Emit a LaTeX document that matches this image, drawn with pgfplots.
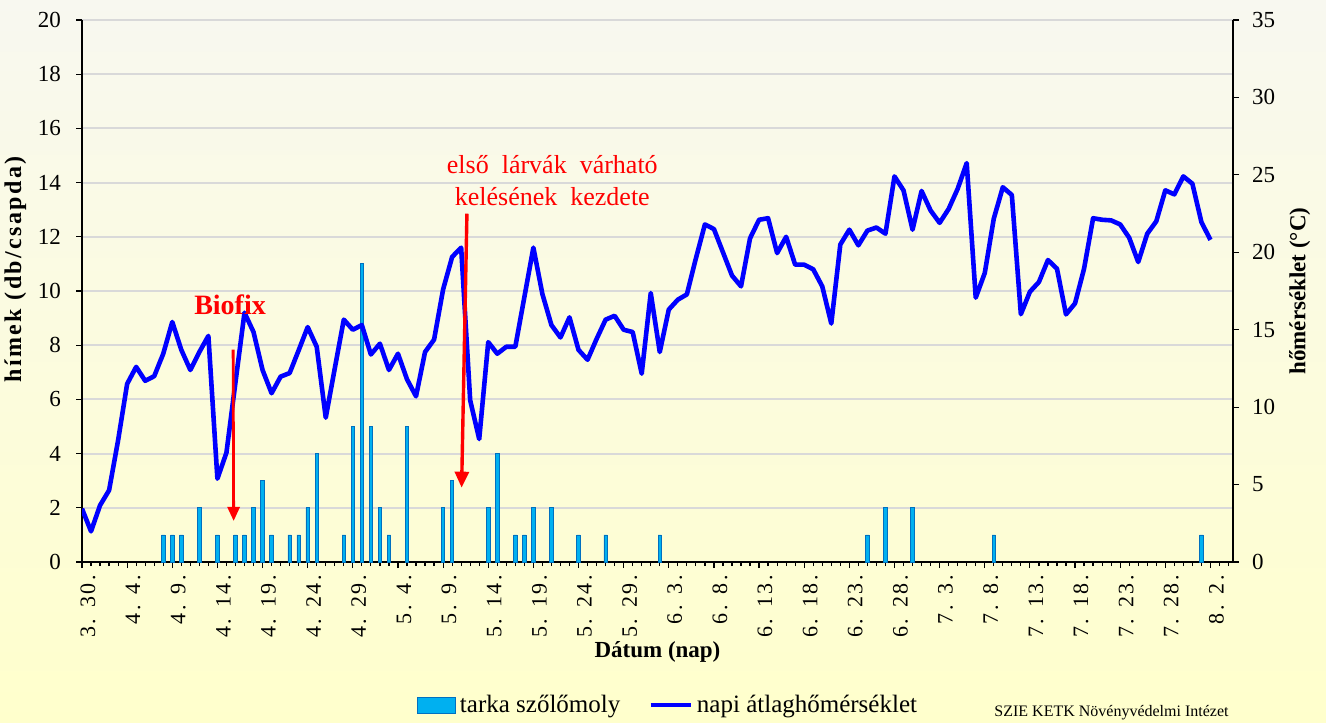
\documentclass[border=0pt]{standalone}
\usepackage{fontspec}
\setmainfont{Liberation Serif}
\newfontfamily\xtickfont[LetterSpace=12]{Liberation Serif}
\newfontfamily\ylabfont[LetterSpace=10]{Liberation Serif}
\usepackage{pgfplots}
\pgfplotsset{compat=1.18}
\usetikzlibrary{arrows.meta}
\definecolor{barfill}{RGB}{0,176,240}
\definecolor{bardraw}{RGB}{0,112,192}
\definecolor{gridc}{RGB}{217,217,217}
\definecolor{bgtop}{RGB}{248,248,240}
\definecolor{bgbot}{RGB}{255,255,204}

\pgfplotstableread{
d v
9 1
10 1
11 1
13 2
15 1
17 1
18 1
19 2
20 3
21 1
23 1
24 1
25 2
26 4
29 1
30 5
31 11
32 5
33 2
34 1
36 5
40 2
41 3
45 2
46 4
48 1
49 1
50 2
52 2
55 1
58 1
64 1
87 1
89 2
92 2
101 1
124 1
}\bars

\pgfplotstableread{
d t
0 3.44
1 1.98
2 3.66
3 4.63
4 7.86
5 11.5
6 12.6
7 11.7
8 12.0
9 13.45
10 15.5
11 13.7
12 12.4
13 13.56
14 14.6
15 5.38
16 7.06
17 11.6
18 16.1
19 14.85
20 12.4
21 10.9
22 11.97
23 12.2
24 13.67
25 15.17
26 13.9
27 9.32
28 12.5
29 15.65
30 15.0
31 15.3
32 13.4
33 14.1
34 12.4
35 13.45
36 11.8
37 10.7
38 13.56
39 14.36
40 17.6
41 19.7
42 20.3
43 10.44
44 7.94
45 14.2
46 13.45
47 13.9
48 13.9
49 17.1
50 20.3
51 17.3
52 15.3
53 14.5
54 15.8
55 13.7
56 13.06
57 14.4
58 15.65
59 15.9
60 15.0
61 14.85
62 12.16
63 17.37
64 13.56
65 16.3
66 16.94
67 17.28
68 19.6
69 21.8
70 21.5
71 20.0
72 18.5
73 17.8
74 20.9
75 22.1
76 22.2
77 19.95
78 21.0
79 19.2
80 19.2
81 18.9
82 17.8
83 15.4
84 20.5
85 21.46
86 20.45
87 21.4
88 21.6
89 21.2
90 24.9
91 24.0
92 21.46
93 23.96
94 22.7
95 21.9
96 22.8
97 24.1
98 25.76
99 17.07
100 18.66
101 22.17
102 24.2
103 23.7
104 16.0
105 17.45
106 18.08
107 19.5
108 18.94
109 15.99
110 16.7
111 18.94
112 22.2
113 22.1
114 22.06
115 21.8
116 20.94
117 19.37
118 21.2
119 22.0
120 24.0
121 23.74
122 24.9
123 24.43
124 21.95
125 20.8
}\temps

\begin{document}
\begin{tikzpicture}[x=1pt,y=1pt]
\useasboundingbox (-41,-80) rectangle (622,281);
\fill[top color=bgtop,bottom color=bgbot] (-41,-80) rectangle (622,281);
\pgfplotsset{
  every axis/.append style={
    at={(0,0)}, anchor=south west, scale only axis,
    width=575.5pt, height=271pt,
    xmin=0, xmax=127.5,
    tick align=outside,
    major tick length=3pt, minor tick length=2pt,
    every tick/.style={black, line width=0.6pt},
    axis line style={black, line width=1pt},
    /pgf/number format/assume math mode=true,
  }
}
\begin{axis}[
  ymin=0, ymax=20,
  axis x line*=bottom, axis y line*=left,
  ytick={0,2,...,20},
  ymajorgrids, grid style={gridc, line width=1pt},
  yticklabel style={font=\fontsize{11.5}{12}\selectfont, xshift=-4pt},
  xtick={0,5,...,125},
  minor xtick={0,1,...,127},
  xticklabels={3. 30.,4. 4.,4. 9.,4. 14.,4. 19.,4. 24.,4. 29.,5. 4.,5. 9.,5. 14.,5. 19.,5. 24.,5. 29.,6. 3.,6. 8.,6. 13.,6. 18.,6. 23.,6. 28.,7. 3.,7. 8.,7. 13.,7. 18.,7. 23.,7. 28.,8. 2.},
  xticklabel style={rotate=90, anchor=east, font=\xtickfont\fontsize{11}{12}\selectfont, yshift=-3pt},
  ylabel={\bfseries hímek (db/csapda)},
  ylabel style={at={(axis description cs:-0.058,0.54)}, anchor=center, rotate=0, font=\ylabfont\fontsize{12}{13}\selectfont},
  xlabel={\bfseries Dátum (nap)},
  xlabel style={at={(axis description cs:0.5,-0.166)}, anchor=center, font=\fontsize{11.5}{13}\selectfont},
]
\addplot[ybar, bar width=1.7pt, fill=barfill, draw=bardraw, line width=0.4pt] table[x=d,y=v] {\bars};
\end{axis}
\begin{axis}[
  ymin=0, ymax=35,
  axis x line=none, axis y line*=right,
  ytick={0,5,...,35},
  yticklabel style={font=\fontsize{11.5}{12}\selectfont, xshift=3pt},
  ylabel={\bfseries hőmérséklet (°C)},
  ylabel style={at={(axis description cs:1.058,0.5)}, anchor=center, rotate=0, font=\fontsize{11.5}{13}\selectfont},
  legend style={at={(0.51,-0.264)}, anchor=center, draw=none, fill=none,
    font=\fontsize{12.5}{14}\selectfont, legend columns=2,
    /tikz/every even column/.append style={column sep=12pt}},
]
\addlegendimage{legend image code/.code={\draw[fill=barfill,draw=bardraw,line width=0.5pt] (0pt,-4pt) rectangle (19pt,4pt);}}
\addlegendentry{tarka szőlőmoly}
\addplot[blue, line width=2.3pt, line join=round,
  legend image code/.code={\draw[blue,line width=2.3pt] (0pt,0pt) -- (20pt,0pt);}] table[x=d,y=t] {\temps};
\addlegendentry{napi átlaghőmérséklet}
\draw[red, line width=1.4pt, -{Triangle[width=6pt,length=7pt]}] (axis cs:16.74,13.71) -- (axis cs:16.8,2.65);
\draw[red, line width=1.7pt, -{Triangle[width=7pt,length=8pt]}] (axis cs:42.64,22.49) -- (axis cs:42.05,4.8);
\node[red, font=\bfseries\fontsize{14}{16}\selectfont] at (axis cs:16.4,16.6) {Biofix};
\node[red, font=\fontsize{13}{16}\selectfont, align=center] at (axis cs:52.1,24.6) {első \ lárvák \ várható\\kelésének \ kezdete};
\end{axis}
\node[anchor=south east, inner sep=0.5pt, font=\fontsize{8}{9}\selectfont] at (574,-79.5) {SZIE KETK Növényvédelmi Intézet};
\end{tikzpicture}
\end{document}
